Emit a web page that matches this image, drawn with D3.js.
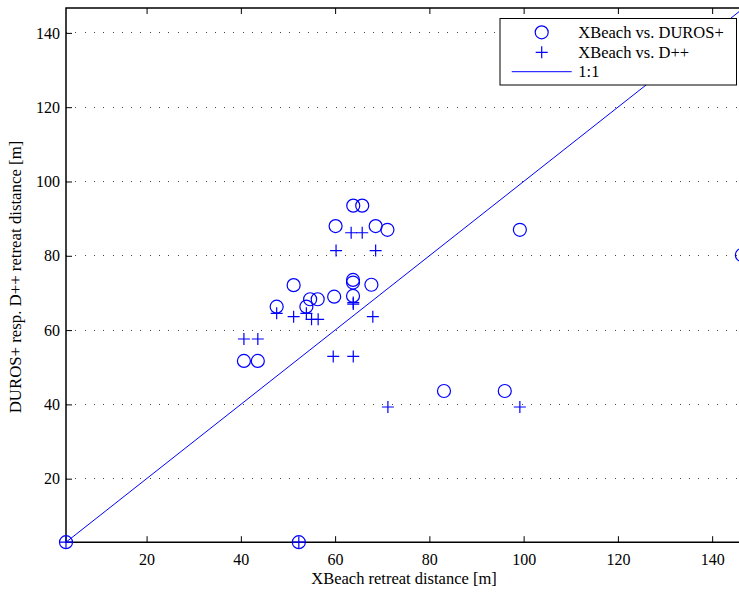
<!DOCTYPE html>
<html><head><meta charset="utf-8">
<script src="https://cdn.jsdelivr.net/npm/d3@7"></script>
<style>body{margin:0;background:#fff}svg text{font-family:"Liberation Serif","Times New Roman",serif;fill:#000}</style>
</head><body><svg id="c" width="739" height="597"></svg>
<script>
const durosX = [2.9,52.3,40.65,43.6,47.6,51.2,53.9,54.7,56.3,59.8,60.1,63.85,65.75,68.6,71.1,63.8,63.8,67.7,63.8,83.1,96.0,99.2,146.3];
const durosY = [2.9,2.9,51.7,51.7,66.3,72.1,66.3,68.3,68.3,69.0,88.0,93.5,93.5,88.0,87.0,73.5,72.8,72.2,69.2,43.6,43.6,87.0,80.2];
const dppX = [2.9,52.3,40.65,43.6,47.6,51.2,53.9,55.0,56.4,59.6,63.85,60.2,63.4,65.75,68.6,63.85,63.85,68.0,71.2,99.2];
const dppY = [2.9,2.9,57.6,57.6,64.5,63.6,64.5,62.9,62.9,52.9,52.9,81.4,86.2,86.2,81.4,67.4,67.0,63.6,39.3,39.3];
const xTicks = [20,40,60,80,100,120,140];
const yTicks = [20,40,60,80,100,120,140];
const legendLabels = ["XBeach vs. DUROS+","XBeach vs. D++","1:1"];
const domainMin = 2.9, domainMax = 146.7;

const svg = d3.select("#c");
const blue = "#0000ff";
const x = d3.scaleLinear().domain([domainMin, domainMax]).range([66, 66 + (domainMax-domainMin)*4.713]);
const y = d3.scaleLinear().domain([domainMin, domainMax]).range([542.2, 8]);
const L = 66, R = x.range()[1], T = 8, B = 542.2;

// grid
svg.append("g").selectAll("line").data(yTicks).join("line")
  .attr("x1", L).attr("x2", R).attr("y1", d=>y(d)).attr("y2", d=>y(d))
  .attr("stroke", "#444").attr("stroke-width", 1).attr("stroke-dasharray", "1,8.3").attr("shape-rendering","crispEdges");

// axes
const xAxis = d3.axisBottom(x).tickValues(xTicks).tickSize(-6).tickPadding(11).tickFormat(d3.format("d"));
const xAxisTop = d3.axisTop(x).tickValues(xTicks).tickSize(-6).tickFormat("");
const yAxis = d3.axisLeft(y).tickValues(yTicks).tickSize(-6).tickPadding(6).tickFormat(d3.format("d"));
function style(g){ g.select(".domain").remove(); g.selectAll(".tick line").attr("stroke","#000").attr("stroke-width",1);
  g.selectAll(".tick text").attr("font-size",16); }
svg.append("g").attr("transform",`translate(0,${B})`).call(xAxis).call(style);
svg.append("g").attr("transform",`translate(0,${T})`).call(xAxisTop).call(style);
svg.append("g").attr("transform",`translate(${L},0)`).call(yAxis).call(style);
svg.append("path").attr("d",`M${R},${T}H${L}V${B}H${R}`).attr("fill","none").attr("stroke","#000").attr("stroke-width",1.5);

// 1:1 line
svg.append("line").attr("x1",x(domainMin)).attr("y1",y(domainMin)).attr("x2",x(domainMax)).attr("y2",y(domainMax))
  .attr("stroke",blue).attr("stroke-width",1);

// circles
svg.append("g").selectAll("circle").data(durosX.map((d,i)=>[d,durosY[i]])).join("circle")
  .attr("cx",d=>x(d[0])).attr("cy",d=>y(d[1])).attr("r",6.5)
  .attr("fill","none").attr("stroke",blue).attr("stroke-width",1.2);
// pluses
svg.append("g").selectAll("path").data(dppX.map((d,i)=>[d,dppY[i]])).join("path")
  .attr("d",d=>{const cx=x(d[0]), cy=y(d[1]); return `M${cx-6},${cy}H${cx+6}M${cx},${cy-6}V${cy+6}`;})
  .attr("fill","none").attr("stroke",blue).attr("stroke-width",1.2);

// legend
const lg = svg.append("g");
lg.append("rect").attr("x",500).attr("y",18.5).attr("width",236.5).attr("height",66.5).attr("fill","#fff").attr("stroke","#000").attr("stroke-width",1);
lg.append("circle").attr("cx",541.7).attr("cy",32.3).attr("r",6.5).attr("fill","none").attr("stroke",blue).attr("stroke-width",1.2);
lg.append("path").attr("d","M535.7,52.3H547.7M541.7,46.3V58.3").attr("stroke",blue).attr("stroke-width",1.2);
lg.append("line").attr("x1",511.7).attr("x2",571.7).attr("y1",71.7).attr("y2",71.7).attr("stroke",blue).attr("stroke-width",1);
lg.selectAll("text").data(legendLabels).join("text").attr("x",578.3).attr("y",(d,i)=>32.3+i*19.7+5.5)
  .attr("font-size",16.5).text(d=>d);

// axis labels
svg.append("text").attr("x",404).attr("y",584).attr("text-anchor","middle").attr("font-size",16.5).text("XBeach retreat distance [m]");
svg.append("text").attr("transform",`translate(21,${277}) rotate(-90)`).attr("text-anchor","middle").attr("font-size",16.8).text("DUROS+ resp. D++ retreat distance [m]");
</script></body></html>
